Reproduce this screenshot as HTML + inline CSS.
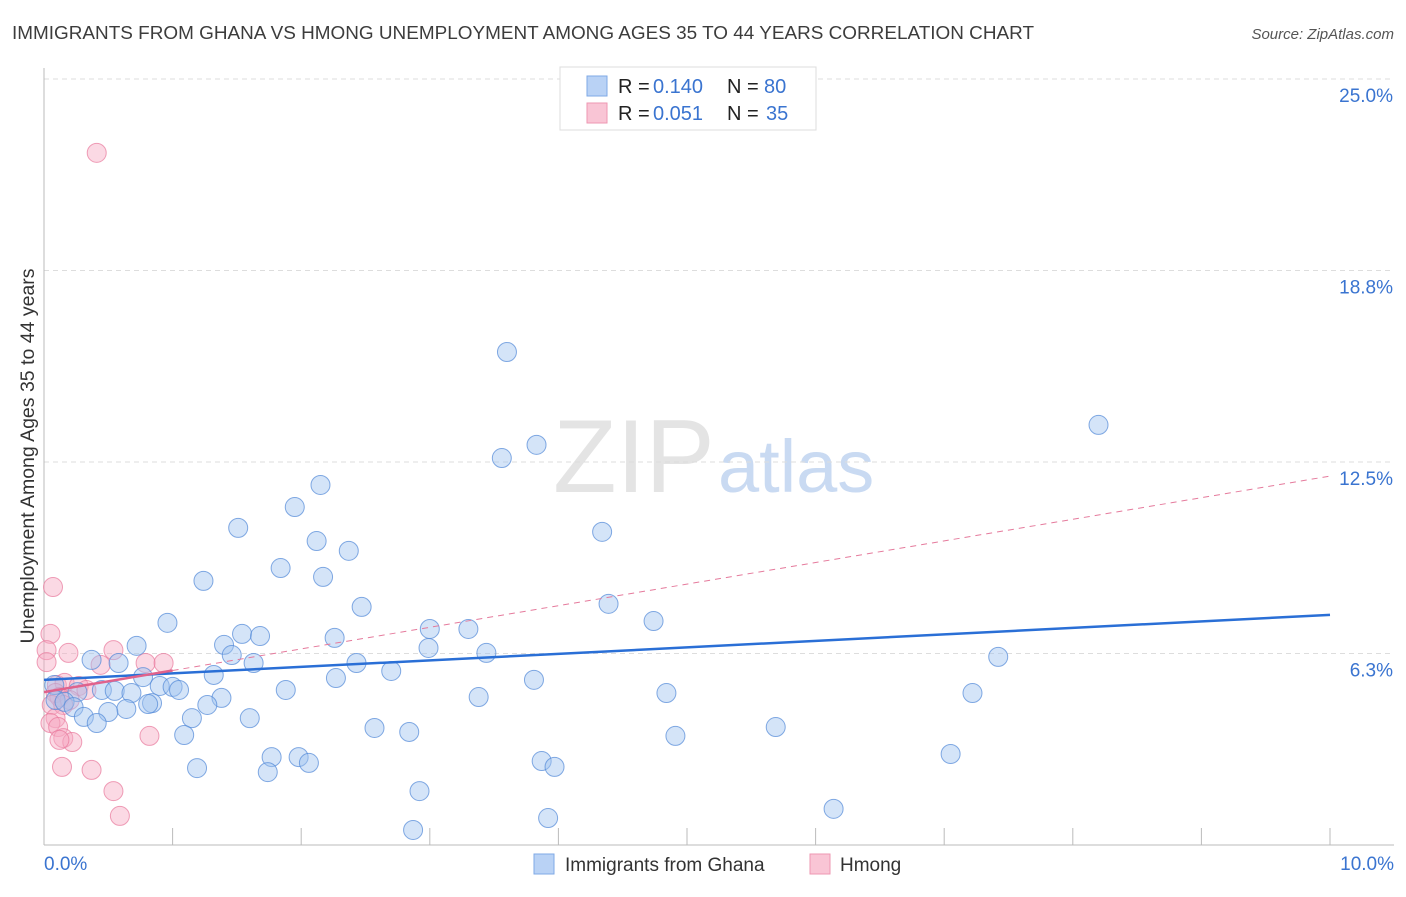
<!DOCTYPE html>
<html><head><meta charset="utf-8">
<style>
body{margin:0;background:#fff;font-family:"Liberation Sans",sans-serif;}
svg text{font-family:"Liberation Sans",sans-serif;}
</style></head>
<body>
<svg id="chart" width="1406" height="892" xmlns="http://www.w3.org/2000/svg">
<text x="12" y="39" font-size="18" fill="#3c3c3c" textLength="1022" lengthAdjust="spacingAndGlyphs">IMMIGRANTS FROM GHANA VS HMONG UNEMPLOYMENT AMONG AGES 35 TO 44 YEARS CORRELATION CHART</text>
<text x="1394" y="39" font-size="15" fill="#555" font-style="italic" text-anchor="end">Source: ZipAtlas.com</text>
<g>
<text x="553" y="492" font-size="104" font-family="Liberation Serif,serif" fill="#e4e4e4">ZIP</text>
<text x="718" y="492" font-size="74" fill="#c9daf2">atlas</text>
</g>
<g id="grid"></g>
<g id="axes"></g>
<g id="pts"></g>
<g id="lines"></g>
<g>
<rect x="560" y="67" width="256" height="63" fill="#fff" stroke="#ddd"/>
<rect x="587" y="76" width="20" height="20" fill="#b9d2f5" stroke="#7fa9e6"/>
<rect x="587" y="103" width="20" height="20" fill="#f9c5d5" stroke="#ee97b2"/>
<text x="618" y="93" font-size="20" fill="#222">R =</text>
<text x="653" y="93" font-size="20" fill="#3a74d0">0.140</text>
<text x="727" y="93" font-size="20" fill="#222">N =</text>
<text x="764" y="93" font-size="20" fill="#3a74d0">80</text>
<text x="618" y="120" font-size="20" fill="#222">R =</text>
<text x="653" y="120" font-size="20" fill="#3a74d0">0.051</text>
<text x="727" y="120" font-size="20" fill="#222">N =</text>
<text x="766" y="120" font-size="20" fill="#3a74d0">35</text>
</g>
<g>
<rect x="534" y="854" width="20" height="20" fill="#b9d2f5" stroke="#7fa9e6"/>
<text x="565" y="871" font-size="19" fill="#333">Immigrants from Ghana</text>
<rect x="810" y="854" width="20" height="20" fill="#f9c5d5" stroke="#ee97b2"/>
<text x="840" y="871" font-size="19" fill="#333">Hmong</text>
</g>
<text transform="translate(34,456) rotate(-90)" font-size="19.5" fill="#333" text-anchor="middle">Unemployment Among Ages 35 to 44 years</text>
</svg>
<script>
const yTicks=[6.25,12.5,18.75,25];
const yTickLabels=["6.3%","12.5%","18.8%","25.0%"];
const xTicks=[0,1,2,3,4,5,6,7,8,9,10];
const xLabels=["0.0%","10.0%"];
const ghanaX=[3.60,8.20,3.83,3.56,2.15,1.95,1.51,4.34,2.12,2.37,1.84,2.17,1.24,2.47,4.39,0.96,4.74,3.00,3.30,1.54,1.68,1.40,2.26,0.72,2.99,1.46,3.44,0.37,0.58,1.63,2.43,7.42,1.32,2.70,0.77,2.27,3.81,0.08,0.45,0.55,0.68,0.90,1.00,1.05,1.88,0.26,4.84,7.22,3.38,1.38,0.09,0.16,0.84,0.81,1.27,0.23,0.64,0.50,0.31,1.15,1.60,0.41,2.57,5.69,2.84,1.09,4.91,1.77,1.98,7.05,2.06,3.87,3.97,1.19,1.74,2.92,6.14,3.92,2.87];
const ghanaY=[16.09,13.71,13.06,12.63,11.75,11.03,10.35,10.22,9.92,9.60,9.04,8.75,8.62,7.77,7.87,7.25,7.31,7.05,7.05,6.89,6.82,6.53,6.76,6.50,6.43,6.20,6.27,6.04,5.94,5.94,5.94,6.14,5.55,5.68,5.48,5.45,5.39,5.22,5.06,5.03,4.96,5.19,5.16,5.06,5.06,4.99,4.96,4.96,4.83,4.80,4.73,4.67,4.63,4.60,4.57,4.50,4.44,4.34,4.18,4.14,4.14,3.98,3.82,3.85,3.69,3.59,3.56,2.87,2.87,2.97,2.68,2.74,2.55,2.51,2.38,1.76,1.18,0.88,0.49];
const hmongX=[0.41,0.07,0.05,0.19,0.54,0.02,0.79,0.93,0.44,0.02,0.10,0.16,0.27,0.33,0.09,0.12,0.20,0.06,0.15,0.09,0.05,0.11,0.15,0.22,0.12,0.82,0.14,0.37,0.54,0.59];
const hmongY=[22.59,8.42,6.89,6.27,6.36,6.36,5.94,5.94,5.88,5.97,5.22,5.29,5.19,5.06,4.96,4.83,4.73,4.57,4.57,4.14,3.98,3.85,3.49,3.36,3.43,3.56,2.55,2.45,1.76,0.95];
const ghanaTrend=[5.39,7.51];
const hmongTrend=[4.99,12.04];
const hmongSolidEnd=1.0;

const NS="http://www.w3.org/2000/svg";
const X=v=>44+v*128.6;
const Y=v=>845-v*30.64;
function mk(tag,attrs,parent){const e=document.createElementNS(NS,tag);for(const k in attrs)e.setAttribute(k,attrs[k]);parent.appendChild(e);return e;}
const grid=document.getElementById('grid'),axes=document.getElementById('axes'),pts=document.getElementById('pts'),lines=document.getElementById('lines');
yTicks.forEach((t,i)=>{
 const l=mk('line',{x1:44,x2:1394,y1:Y(t),y2:Y(t),stroke:'#ddd','stroke-dasharray':'5,4'},grid);
 
 
 const tx=mk('text',{x:1393,y:Y(t)+23,'font-size':19,fill:'#3a74d0','text-anchor':'end'},grid);
 tx.textContent=yTickLabels[i];
 
 
});
const ya=mk('line',{x1:44,x2:44,y1:68,y2:845,stroke:'#bbb'},axes);


const xa=mk('line',{x1:44,x2:1394,y1:845,y2:845,stroke:'#bbb'},axes);


xTicks.forEach(t=>{
 const l=mk('line',{x1:X(t),x2:X(t),y1:828,y2:845,stroke:'#bbb'},axes);
 
 
});
const xl0=mk('text',{x:44,y:870,'font-size':19,fill:'#3a74d0'},axes);xl0.textContent=xLabels[0];


const xl1=mk('text',{x:1394,y:870,'font-size':19,fill:'#3a74d0','text-anchor':'end'},axes);xl1.textContent=xLabels[1];


hmongX.forEach((x,i)=>{
 const c=mk('circle',{cx:X(x),cy:Y(hmongY[i]),r:9.5,fill:'rgba(246,170,195,0.45)',stroke:'rgba(232,120,155,0.7)','stroke-width':1},pts);
 
 
});
ghanaX.forEach((x,i)=>{
 const c=mk('circle',{cx:X(x),cy:Y(ghanaY[i]),r:9.5,fill:'rgba(160,195,240,0.45)',stroke:'rgba(80,135,215,0.7)','stroke-width':1},pts);
 
 
});
const hy=x=>hmongTrend[0]+(hmongTrend[1]-hmongTrend[0])*x/10;
const hd=mk('line',{x1:X(hmongSolidEnd),y1:Y(hy(hmongSolidEnd)),x2:X(10),y2:Y(hmongTrend[1]),stroke:'#e57a9c','stroke-width':1,'stroke-dasharray':'6,5'},lines);


const gl=mk('line',{x1:X(0),y1:Y(ghanaTrend[0]),x2:X(10),y2:Y(ghanaTrend[1]),stroke:'#2a6fd6','stroke-width':2.5},lines);


const hl=mk('line',{x1:X(0),y1:Y(hmongTrend[0]),x2:X(hmongSolidEnd),y2:Y(hy(hmongSolidEnd)),stroke:'#e0628c','stroke-width':2.5},lines);


</script>
</body></html>
